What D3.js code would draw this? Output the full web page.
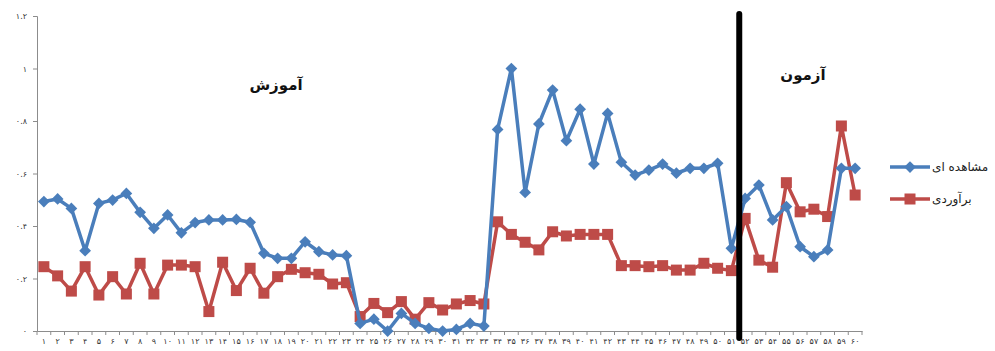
<!DOCTYPE html>
<html>
<head>
<meta charset="utf-8">
<script src="https://cdn.jsdelivr.net/npm/d3@7"></script>
<style>
  html, body { margin: 0; padding: 0; background: #fff; }
  svg { display: block; }
  text { font-family: "DejaVu Sans", "Noto Sans", sans-serif; }
</style>
</head>
<body>
<svg id="chart" width="995" height="351"></svg>
<script>
// Sample numbers (1..60)
const categories = [1,2,3,4,5,6,7,8,9,10,11,12,13,14,15,16,17,18,19,20,
  21,22,23,24,25,26,27,28,29,30,31,32,33,34,35,36,37,38,39,40,
  41,42,43,44,45,46,47,48,49,50,51,52,53,54,55,56,57,58,59,60];

// Observed values
const observed = [0.493,0.503,0.467,0.306,0.486,0.499,0.524,0.452,0.391,0.442,
  0.374,0.413,0.423,0.423,0.425,0.414,0.296,0.277,0.277,0.340,
  0.302,0.290,0.287,0.029,0.045,0.000,0.067,0.029,0.010,0.000,
  0.006,0.029,0.019,0.768,1.000,0.528,0.789,0.918,0.725,0.845,
  0.636,0.829,0.643,0.594,0.613,0.636,0.601,0.620,0.620,0.639,
  0.315,0.505,0.556,0.423,0.474,0.321,0.283,0.309,0.620,0.620];

// Estimated values
const estimated = [0.245,0.210,0.152,0.245,0.137,0.207,0.141,0.258,0.141,0.251,
  0.251,0.245,0.074,0.262,0.154,0.239,0.144,0.207,0.235,0.222,
  0.216,0.179,0.184,0.055,0.105,0.070,0.112,0.045,0.108,0.080,
  0.103,0.116,0.103,0.416,0.368,0.338,0.309,0.378,0.362,0.368,
  0.368,0.368,0.249,0.249,0.245,0.249,0.232,0.232,0.258,0.239,
  0.230,0.429,0.270,0.243,0.565,0.454,0.464,0.436,0.781,0.518];

const yTicks = [0, 0.2, 0.4, 0.6, 0.8, 1, 1.2];
const yTickLabels = ["۰", "۰.۲", "۰.۴", "۰.۶", "۰.۸", "۱", "۱.۲"];
const seriesNames = ["مشاهده ای", "برآوردی"];
const regionLabels = ["آموزش", "آزمون"];
const trainTestSplit = 51; // last training sample

const faDigits = "۰۱۲۳۴۵۶۷۸۹";
const toFa = n => String(n).replace(/\d/g, d => faDigits[+d]);

const svg = d3.select("#chart");
const plotLeft = 37, plotRight = 862, plotTop = 16, plotBottom = 331;

const x = d3.scaleBand().domain(categories).range([plotLeft, plotRight]).padding(0);
const y = d3.scaleLinear().domain([0, 1.2]).range([plotBottom, plotTop]);
const cx = d => x(d) + x.bandwidth() / 2;

const axisColor = "#8c8c8c";

// Y axis
const yAxis = svg.append("g").attr("transform", `translate(${plotLeft},0)`)
  .call(d3.axisLeft(y).tickValues(yTicks).tickSize(4)
    .tickFormat((d, i) => yTickLabels[i]));
yAxis.select(".domain").attr("stroke", axisColor);
yAxis.selectAll(".tick line").attr("stroke", axisColor);
yAxis.selectAll(".tick text").attr("font-size", 8).attr("fill", "#333")
  .attr("x", -10);

// X axis with boundary ticks
const xAxis = svg.append("g").attr("transform", `translate(0,${plotBottom})`)
  .call(d3.axisBottom(x).tickSize(0).tickFormat(d => toFa(d)));
xAxis.select(".domain").attr("stroke", axisColor);
xAxis.selectAll(".tick text").attr("font-size", 8).attr("fill", "#333").attr("dy", "1.3em");
const boundaries = categories.map(d => x(d)).concat([plotRight]);
svg.append("g").selectAll("line").data(boundaries).join("line")
  .attr("x1", d => d).attr("x2", d => d)
  .attr("y1", plotBottom).attr("y2", plotBottom + 4)
  .attr("stroke", axisColor);

const blue = "#4A7EBB", red = "#BE4B48";

const line = d3.line().x((d, i) => cx(categories[i])).y(d => y(d));

// Estimated series (squares)
svg.append("path").datum(estimated).attr("d", line)
  .attr("fill", "none").attr("stroke", red).attr("stroke-width", 3.5)
  .attr("stroke-linejoin", "round");
svg.append("g").selectAll("rect").data(estimated).join("rect")
  .attr("x", (d, i) => cx(categories[i]) - 5.5).attr("y", d => y(d) - 5.5)
  .attr("width", 11).attr("height", 11).attr("fill", red);

// Observed series (diamonds)
svg.append("path").datum(observed).attr("d", line)
  .attr("fill", "none").attr("stroke", blue).attr("stroke-width", 3.5)
  .attr("stroke-linejoin", "round");
const diamond = d3.symbol().type(d3.symbolDiamond2).size(88);
svg.append("g").selectAll("path").data(observed).join("path")
  .attr("d", diamond)
  .attr("transform", (d, i) => `translate(${cx(categories[i])},${y(d)})`)
  .attr("fill", blue);

// Train / test divider
const splitX = x(trainTestSplit) + x.bandwidth() + 1;
svg.append("line").attr("x1", splitX).attr("x2", splitX)
  .attr("y1", 14).attr("y2", 338)
  .attr("stroke", "#000").attr("stroke-width", 6).attr("stroke-linecap", "round");

// Region titles
svg.append("text").attr("x", 276).attr("y", 90).attr("text-anchor", "middle")
  .attr("font-size", 15).attr("font-weight", "bold").attr("fill", "#111")
  .text(regionLabels[0]);
svg.append("text").attr("x", 803).attr("y", 80).attr("text-anchor", "middle")
  .attr("font-size", 15).attr("font-weight", "bold").attr("fill", "#111")
  .text(regionLabels[1]);

// Legend
const legend = svg.append("g");
const legendRows = [
  { name: seriesNames[0], color: blue, shape: "diamond", yy: 167 },
  { name: seriesNames[1], color: red, shape: "square", yy: 199 }
];
legendRows.forEach(r => {
  legend.append("line").attr("x1", 890).attr("x2", 930)
    .attr("y1", r.yy).attr("y2", r.yy).attr("stroke", r.color).attr("stroke-width", 3.5);
  if (r.shape === "diamond") {
    legend.append("path").attr("d", diamond)
      .attr("transform", `translate(910,${r.yy})`).attr("fill", r.color);
  } else {
    legend.append("rect").attr("x", 904.5).attr("y", r.yy - 5.5)
      .attr("width", 11).attr("height", 11).attr("fill", r.color);
  }
  legend.append("text").attr("x", 932).attr("y", r.yy + 4)
    .attr("font-size", 12).attr("fill", "#222").text(r.name);
});
</script>
</body>
</html>
